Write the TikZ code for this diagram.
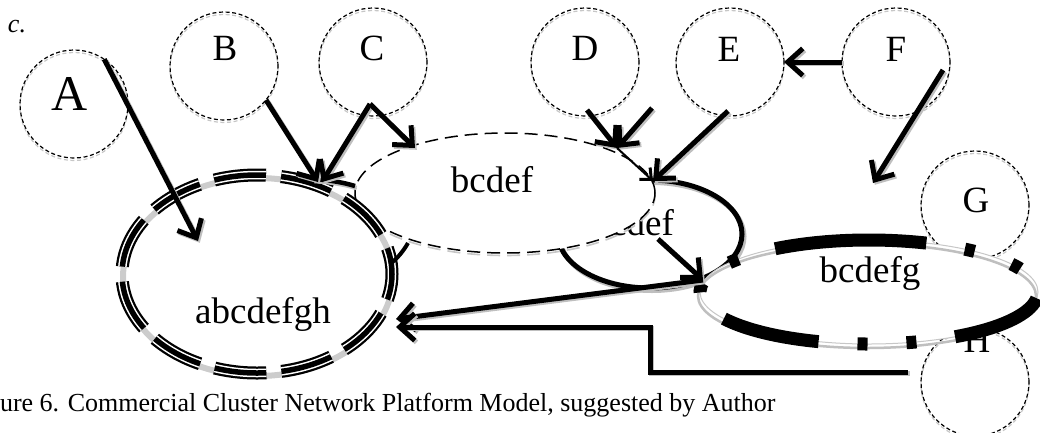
\documentclass[tikz,border=0pt]{standalone}
\usepackage{fontspec}
\setmainfont{Liberation Serif}
\usetikzlibrary{arrows.meta,shapes.geometric}

\begin{document}
\begin{tikzpicture}[x=1pt,y=-1pt,
  every node/.style={inner sep=0pt, outer sep=0pt},
  shade grey/.style={black!20},
  member/.style={circle, minimum size=108pt, draw=black, line width=1.2pt,
    dash pattern=on 4pt off 2.6pt,
    preaction={draw=black!22, line width=1.2pt, dash pattern=on 4pt off 2.6pt,
      transform canvas={yshift=-2.5pt}}},
  biglab/.style={anchor=base, font=\fontsize{37}{40}\selectfont},
  link/.style={line width=5pt,
    -{Straight Barb[length=15pt,width=27pt,line width=5pt]},
    preaction={draw=black!25, line width=5pt,
      transform canvas={shift={(1.8pt,-1.8pt)}}}},
  thinlink/.style={line width=2pt,
    -{Straight Barb[length=9pt,width=16pt,line width=3pt]}},
  tripleline/.style={dash pattern=on 52pt off 15.2pt, dash phase=26pt},
  chain/.style={line width=13pt,
    dash pattern=on 150pt off 39pt on 10pt off 39pt on 10pt off 37pt
                 on 93pt off 39pt on 10pt off 39pt on 10pt off 39pt
                 on 98pt off 37pt on 10pt off 34pt on 10pt off 38pt}
]
\useasboundingbox (0,0) rectangle (1040,432);

% ---- member circles A .. H ----
\node[member] (A) at (74,104) {};
\node[member] (B) at (224,66) {};
\node[member] (C) at (373,62) {};
\node[member] (D) at (585,62) {};
\node[member] (E) at (730,62) {};
\node[member] (F) at (896,62) {};
\node[member] (G) at (975,205) {};
\node[member] (H) at (975,382) {};

\node[anchor=base, font=\fontsize{50}{54}\selectfont] (Alab) at (70,110) {A};
\node[biglab] (Blab) at (225,60) {B};
\node[biglab] (Clab) at (372,60) {C};
\node[biglab] (Dlab) at (585,60) {D};
\node[biglab] (Elab) at (729,61) {E};
\node[biglab] (Flab) at (896,61) {F};
\node[biglab] (Glab) at (976,212) {G};
\node[biglab] (Hlab) at (977,352) {H};

% ---- cluster cdef (solid, partly covered) ----
\node[ellipse, draw, line width=5pt, minimum width=184pt, minimum height=108pt,
  preaction={draw=black!25, line width=5pt, transform canvas={shift={(2pt,-2.5pt)}}}]
  (cdef) at (650,234) {};
\node[biglab] (cdeflab) at (642,235) {cdef};

% ---- cluster bcdef (dashed, white fill) ----
\node[ellipse, draw, fill=white, line width=1.5pt, dash pattern=on 13pt off 7pt,
  minimum width=300pt, minimum height=120pt,
  preaction={draw=black!22, line width=1.6pt, transform canvas={yshift=-2.5pt}}]
  (bcdef) at (505,193) {};
\node[biglab] (bcdeflab) at (492,192) {bcdef};

% ---- cluster abcdefgh (triple dashed outline) ----
\node[ellipse, minimum width=270pt, minimum height=198pt] (abc) at (257,274) {};
\draw[shade grey, line width=6pt] ([shift={(1,3)}]abc.center) ellipse [x radius=135, y radius=99];
\draw[tripleline, line width=13pt] (abc.center) ellipse [x radius=135, y radius=99];
\draw[tripleline, line width=8.5pt, white] (abc.center) ellipse [x radius=135, y radius=99];
\draw[tripleline, line width=5.5pt] (abc.center) ellipse [x radius=135, y radius=99];
\node[biglab] (abclab) at (263,323) {abcdefgh};

% remaining visible pieces of a solid outline behind bcdef
\draw[line width=4.5pt, preaction={draw=black!25, line width=4.5pt,
    transform canvas={shift={(1.5pt,-2pt)}}}]
  (313,179) .. controls (328,180) and (342,182) .. (355,186);
\draw[line width=4pt] (390,264) .. controls (398,258) and (404,250) .. (408,243);

% ---- cluster bcdefg (dash-dot-dot, white fill) ----
\node[ellipse, fill=white, minimum width=338pt, minimum height=104pt] (bcdefg) at (869,292) {};
\draw[black!25, line width=2.5pt] ([shift={(-2,4)}]bcdefg.center) ellipse [x radius=169, y radius=52];
\draw[black!22, line width=1pt] (bcdefg.center) ellipse [x radius=169, y radius=52];
\draw[chain] (bcdefg.center) ++(237:169 and 52)
  arc[start angle=237, end angle=597, x radius=169, y radius=52];
\node[biglab] (bcdefglab) at (870,282) {bcdefg};

% ---- connector end points ----
\coordinate (aTip) at (198,241);
\coordinate (abcTopB) at (318,182);
\coordinate (abcTopC) at (322,182);
\coordinate (cFoot) at (370,104);
\coordinate (bcdefTL) at (415,148);
\coordinate (dFoot) at (587,110);
\coordinate (dAux) at (652,108);
\coordinate (dTip) at (617,148);
\coordinate (cdefTop) at (653,181);
\coordinate (eFoot) at (728,111);
\coordinate (fFoot) at (943,70);
\coordinate (fTip) at (873,183);
\coordinate (defFoot) at (658,239);
\coordinate (bcdefgW) at (703,280);
\coordinate (abcE1) at (396,319);
\coordinate (abcE2) at (396,327);
\coordinate (hFoot) at (908,372);
\coordinate (elbow) at (650,372);

% ---- connectors ----
\draw[link] (A.56) -- (aTip);
\draw[link] (B.-39) -- (abcTopB);
\draw[link] (cFoot) -- (abcTopC);
\draw[link] (cFoot) -- (bcdefTL);
\draw[link] (dFoot) -- (dTip);
\draw[link] (dAux) -- (dTip);
\draw[thinlink] (dTip) -- (cdefTop);
\draw[link] (eFoot) -- (cdefTop);
\draw[link] (F.west) -- (E.east);
\draw[link] (fFoot) -- (fTip);
\draw[link] (defFoot) -- (bcdefgW);
\draw[link] (bcdefgW) -- (abcE1);
\draw[link] (hFoot) -- (elbow) |- (abcE2);

% ---- caption ----
\node[anchor=base west, font=\fontsize{26}{30}\selectfont\itshape] (tag) at (8,32) {c.};
\node[anchor=base west, font=\fontsize{26}{30}\selectfont] (caption) at (0,411)
  {ure 6. Commercial Cluster Network Platform Model, suggested by Author};
\end{tikzpicture}
\end{document}
